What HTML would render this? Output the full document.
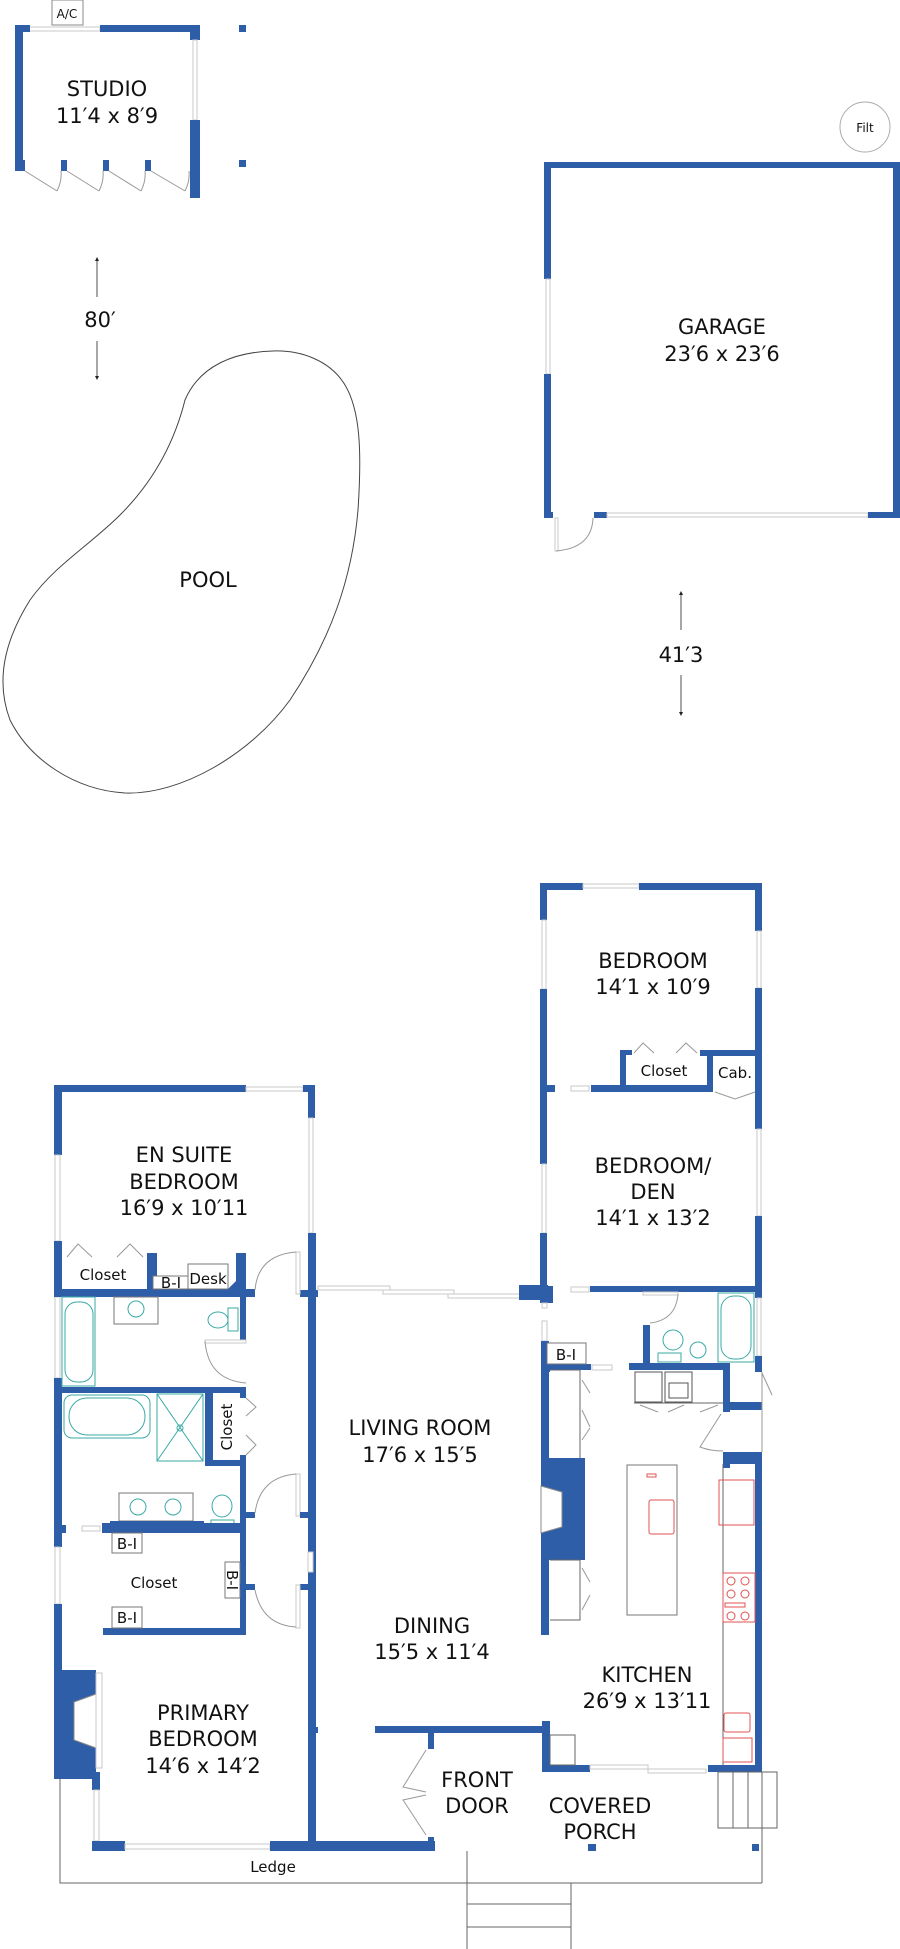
<!DOCTYPE html>
<html><head><meta charset="utf-8"><style>
html,body{margin:0;padding:0;background:#fff}
svg{display:block}
text{font-family:"DejaVu Sans","Liberation Sans",sans-serif;fill:#111;text-anchor:middle}
.w{fill:#2f5ea8}
.win{fill:#fff;stroke:#c8c8c8;stroke-width:1}
.ln{fill:none;stroke:#999;stroke-width:1}
.dk{fill:none;stroke:#666;stroke-width:1}
.t{fill:none;stroke:#3aaaa6;stroke-width:1}
.r{fill:none;stroke:#e05050;stroke-width:1}
.big{font-size:21px}
.sm{font-size:15px}
.xs{font-size:12px}
</style></head><body>
<svg width="900" height="1949" viewBox="0 0 900 1949" xmlns="http://www.w3.org/2000/svg">
<defs><marker id="ar" viewBox="0 0 6 6" refX="3" refY="3" markerWidth="5" markerHeight="5" orient="auto"><path d="M0,0L6,3L0,6z" fill="#222"/></marker></defs>

<!-- STUDIO -->
<rect x="52" y="0" width="31" height="25" fill="#fff" stroke="#888"/>
<text x="67" y="18" class="xs">A/C</text>
<rect class="win" x="23" y="27" width="77" height="4"/>
<rect class="w" x="15" y="25" width="8" height="146"/>
<rect class="w" x="15" y="25" width="15" height="7"/>
<rect class="w" x="100" y="25" width="100" height="7"/>
<rect class="w" x="190" y="25" width="10" height="15"/>
<rect class="win" x="193" y="40" width="4" height="80"/>
<rect class="w" x="190" y="120" width="10" height="78"/>
<rect class="w" x="15" y="160" width="10" height="11"/>
<rect class="w" x="61" y="160" width="6" height="11"/>
<rect class="w" x="103" y="160" width="6" height="11"/>
<rect class="w" x="145" y="160" width="6" height="11"/>
<path class="ln" d="M25,171 L57,191 M67,171 L99,191 M109,171 L141,191 M151,171 L185,191"/>
<path class="ln" d="M57,191 Q62,181 61,171 M99,191 Q104,181 103,171 M141,191 Q146,181 145,171 M185,191 Q190,181 189,171"/>
<rect class="w" x="239" y="25" width="7" height="7"/>
<rect class="w" x="239" y="160" width="7" height="7"/>
<text x="107" y="96" class="big">STUDIO</text>
<text x="107" y="123" class="big">11′4 x 8′9</text>

<!-- dimension 80' -->
<line x1="97" y1="297" x2="97" y2="259" stroke="#222" stroke-width="0.8" marker-end="url(#ar)"/>
<line x1="97" y1="341" x2="97" y2="378" stroke="#222" stroke-width="0.8" marker-end="url(#ar)"/>
<text x="100" y="327" class="big">80′</text>

<!-- Filt -->
<circle cx="865" cy="127" r="25" fill="#fff" stroke="#aaa"/>
<text x="865" y="132" class="xs">Filt</text>

<!-- GARAGE -->
<rect class="w" x="544" y="162" width="356" height="6"/>
<rect class="w" x="544" y="162" width="7" height="117"/>
<rect class="win" x="546" y="279" width="4" height="95"/>
<rect class="w" x="544" y="374" width="7" height="144"/>
<rect class="w" x="893" y="162" width="7" height="356"/>
<rect class="w" x="544" y="512" width="9" height="6"/>
<rect class="w" x="594" y="512" width="13" height="6"/>
<rect class="win" x="607" y="513" width="261" height="4"/>
<rect class="w" x="868" y="512" width="32" height="6"/>
<rect class="win" x="555" y="518" width="3" height="33"/>
<path class="ln" d="M556,551 Q592,548 593,518"/>
<text x="722" y="334" class="big">GARAGE</text>
<text x="722" y="361" class="big">23′6 x 23′6</text>

<!-- dimension 41'3 -->
<line x1="681" y1="630" x2="681" y2="593" stroke="#222" stroke-width="0.8" marker-end="url(#ar)"/>
<line x1="681" y1="675" x2="681" y2="714" stroke="#222" stroke-width="0.8" marker-end="url(#ar)"/>
<text x="681" y="662" class="big">41′3</text>

<!-- POOL -->
<path fill="none" stroke="#444" stroke-width="1" d="M273,351 C300,350 330,360 345,385 C360,410 362,450 358,510 C352,580 330,640 290,700 C250,755 180,795 125,793 C75,790 30,760 10,720 C-5,680 5,640 30,600 C55,565 90,545 120,515 C155,480 175,440 185,400 C200,365 235,352 273,351 Z"/>
<text x="208" y="587" class="big">POOL</text>

<!-- ===== MAIN HOUSE ===== -->
<!-- En suite -->
<rect class="w" x="54" y="1085" width="192" height="7"/>
<rect class="win" x="246" y="1087" width="57" height="4"/>
<rect class="w" x="303" y="1085" width="12" height="7"/>
<rect class="w" x="308" y="1085" width="7" height="33"/>
<rect class="win" x="309" y="1118" width="4" height="115"/>
<rect class="w" x="308" y="1233" width="8" height="618"/>
<rect class="w" x="54" y="1085" width="8" height="70"/>
<rect class="win" x="55" y="1155" width="5" height="86"/>
<rect class="w" x="54" y="1241" width="8" height="56"/>
<rect class="win" x="55" y="1297" width="5" height="81"/>
<rect class="w" x="54" y="1378" width="8" height="169"/>
<rect class="win" x="55" y="1547" width="5" height="57"/>
<rect class="w" x="54" y="1604" width="8" height="66"/>
<rect class="w" x="54" y="1670" width="42" height="109"/>
<path d="M74,1702 L96,1694 L96,1748 L74,1740 Z" fill="#fff" stroke="#888"/>
<rect class="win" x="96" y="1673" width="6" height="95"/>
<rect class="w" x="54" y="1289" width="201" height="8"/>
<rect class="w" x="54" y="1253" width="8" height="8"/>
<rect class="w" x="147" y="1253" width="10" height="44"/>
<rect class="w" x="236" y="1253" width="10" height="44"/>
<rect class="w" x="240" y="1289" width="6" height="51"/>
<path d="M228,1289 L246,1271 L246,1289 Z" class="w"/>
<path class="ln" d="M67,1257 L78,1244 L92,1257 M117,1257 L130,1244 L143,1257"/>
<rect x="153" y="1276" width="35" height="13" fill="#fff" stroke="#777"/>
<rect x="188" y="1264" width="40" height="25" fill="#fff" stroke="#777"/>
<text x="103" y="1280" class="sm">Closet</text>
<text x="171" y="1288" class="sm">B-I</text>
<text x="208" y="1284" class="sm">Desk</text>
<!-- bath 1 -->
<rect class="w" x="54" y="1387" width="192" height="6"/>
<rect class="w" x="240" y="1387" width="6" height="11"/>
<rect class="t" x="62" y="1297" width="33" height="89"/>
<rect class="t" x="65" y="1302" width="28" height="80" rx="12"/>
<rect x="114" y="1297" width="44" height="27" fill="none" stroke="#777"/>
<circle class="t" cx="136" cy="1309" r="8"/>
<ellipse class="t" cx="218" cy="1320" rx="10" ry="8"/>
<rect class="t" x="228" y="1308" width="10" height="23"/>
<rect class="win" x="205" y="1340" width="41" height="3"/>
<path class="ln" d="M205,1341 Q208,1380 246,1383"/>
<!-- bath 2 -->
<rect class="w" x="205" y="1393" width="8" height="72"/>
<rect class="w" x="205" y="1460" width="41" height="6"/>
<rect class="w" x="240" y="1455" width="6" height="180"/>
<rect class="t" x="64" y="1395" width="86" height="43" rx="8"/>
<rect class="t" x="69" y="1398" width="76" height="37" rx="18"/>
<rect class="t" x="157" y="1394" width="46" height="67"/>
<path class="t" d="M157,1394 L203,1461 M203,1394 L157,1461"/>
<circle class="t" cx="180" cy="1428" r="3"/>
<path class="ln" d="M246,1398 L256,1407 L246,1416 M246,1435 L256,1445 L246,1455"/>
<text x="0" y="0" class="sm" transform="translate(232,1427) rotate(-90)">Closet</text>
<rect x="119" y="1493" width="74" height="28" fill="none" stroke="#777"/>
<circle class="t" cx="138" cy="1507" r="8"/>
<circle class="t" cx="173" cy="1507" r="8"/>
<ellipse class="t" cx="222" cy="1506" rx="10" ry="11"/>
<rect class="t" x="211" y="1520" width="23" height="12"/>
<rect class="w" x="110" y="1521" width="94" height="12"/>
<rect class="w" x="102" y="1523" width="144" height="10"/>
<rect class="win" x="82" y="1526" width="18" height="5"/>
<rect class="w" x="62" y="1525" width="4" height="8"/>
<rect class="w" x="240" y="1512" width="15" height="6"/>
<rect class="win" x="296" y="1474" width="4" height="42"/>
<rect class="w" x="300" y="1512" width="8" height="6"/>
<path class="ln" d="M255,1513 Q260,1477 296,1474"/>
<!-- closet -->
<rect class="w" x="103" y="1628" width="143" height="7"/>
<rect x="112" y="1533" width="30" height="20" fill="#fff" stroke="#777"/>
<rect x="112" y="1607" width="30" height="21" fill="#fff" stroke="#777"/>
<rect x="225" y="1562" width="15" height="36" fill="#fff" stroke="#777"/>
<text x="127" y="1549" class="sm">B-I</text>
<text x="127" y="1623" class="sm">B-I</text>
<text x="0" y="0" class="sm" transform="translate(227,1580) rotate(90)">B-I</text>
<text x="154" y="1588" class="sm">Closet</text>
<rect class="w" x="240" y="1584" width="15" height="6"/>
<rect class="w" x="300" y="1584" width="8" height="6"/>
<rect class="win" x="296" y="1585" width="4" height="43"/>
<path class="ln" d="M255,1590 Q262,1625 296,1627"/>
<rect class="win" x="308" y="1552" width="5" height="20"/>
<!-- primary -->
<rect class="w" x="92" y="1772" width="8" height="18"/>
<rect class="win" x="94" y="1790" width="5" height="51"/>
<rect class="w" x="92" y="1841" width="33" height="10"/>
<rect class="win" x="125" y="1844" width="145" height="5"/>
<rect class="w" x="270" y="1841" width="165" height="10"/>
<rect class="w" x="315" y="1727" width="3" height="6"/>
<text x="203" y="1720" class="big">PRIMARY</text>
<text x="203" y="1746" class="big">BEDROOM</text>
<text x="203" y="1773" class="big">14′6 x 14′2</text>
<!-- ledge -->
<path class="dk" d="M60,1779 L60,1883 L762,1883 M762,1772 L762,1883"/>
<text x="273" y="1872" class="sm">Ledge</text>
<path class="dk" d="M467,1851 L467,1949 M571,1883 L571,1949 M467,1904 L571,1904 M467,1927 L571,1927"/>
<text x="184" y="1162" class="big">EN SUITE</text>
<text x="184" y="1189" class="big">BEDROOM</text>
<text x="184" y="1215" class="big">16′9 x 10′11</text>

<!-- living -->
<rect class="w" x="300" y="1290" width="18" height="7"/>
<rect class="win" x="296" y="1252" width="4" height="42"/>
<path class="ln" d="M255,1290 Q258,1255 296,1252"/>
<rect class="w" x="240" y="1290" width="15" height="7"/>
<rect class="win" x="318" y="1286" width="72" height="4"/>
<rect class="win" x="383" y="1290" width="71" height="4"/>
<rect class="win" x="448" y="1294" width="72" height="4"/>
<rect class="w" x="519" y="1285" width="29" height="15"/>
<rect class="w" x="540" y="1286" width="13" height="17"/>
<rect class="win" x="542" y="1303" width="5" height="5"/>
<rect class="win" x="542" y="1321" width="5" height="20"/>
<text x="420" y="1435" class="big">LIVING ROOM</text>
<text x="420" y="1462" class="big">17′6 x 15′5</text>
<text x="432" y="1633" class="big">DINING</text>
<text x="432" y="1659" class="big">15′5 x 11′4</text>

<!-- right bedrooms -->
<rect class="w" x="540" y="883" width="43" height="7"/>
<rect class="win" x="583" y="884" width="56" height="4"/>
<rect class="w" x="639" y="883" width="123" height="7"/>
<rect class="w" x="540" y="883" width="7" height="37"/>
<rect class="win" x="542" y="920" width="4" height="69"/>
<rect class="w" x="540" y="989" width="7" height="175"/>
<rect class="win" x="542" y="1164" width="4" height="69"/>
<rect class="w" x="540" y="1233" width="7" height="60"/>
<rect class="w" x="755" y="883" width="7" height="48"/>
<rect class="win" x="757" y="931" width="4" height="57"/>
<rect class="w" x="755" y="988" width="7" height="141"/>
<rect class="win" x="757" y="1129" width="4" height="87"/>
<rect class="w" x="755" y="1216" width="7" height="76"/>
<rect class="w" x="540" y="1085" width="15" height="7"/>
<rect class="win" x="571" y="1086" width="18" height="5"/>
<rect class="w" x="591" y="1085" width="122" height="7"/>
<rect class="w" x="620" y="1050" width="6" height="42"/>
<rect class="w" x="620" y="1050" width="12" height="5"/>
<rect class="w" x="700" y="1050" width="62" height="6"/>
<rect class="w" x="707" y="1050" width="6" height="42"/>
<path class="ln" d="M634,1053 L643,1043 L654,1053 M676,1053 L686,1043 L697,1053 M715,1092 L735,1099 L755,1092"/>
<text x="664" y="1076" class="sm">Closet</text>
<text x="735" y="1078" class="sm">Cab.</text>
<text x="653" y="968" class="big">BEDROOM</text>
<text x="653" y="994" class="big">14′1 x 10′9</text>
<text x="653" y="1173" class="big">BEDROOM/</text>
<text x="653" y="1199" class="big">DEN</text>
<text x="653" y="1225" class="big">14′1 x 13′2</text>

<!-- kitchen top / bath -->
<rect class="w" x="590" y="1286" width="172" height="6"/>
<rect class="win" x="571" y="1287" width="18" height="5"/>
<rect class="w" x="643" y="1286" width="7" height="5"/>
<rect class="win" x="643" y="1292" width="35" height="3"/>
<path class="ln" d="M678,1294 Q676,1320 650,1323"/>
<rect class="w" x="643" y="1325" width="7" height="45"/>
<rect class="w" x="755" y="1280" width="7" height="18"/>
<rect class="win" x="757" y="1298" width="4" height="58"/>
<rect class="w" x="755" y="1356" width="7" height="16"/>
<rect class="t" x="718" y="1293" width="36" height="69"/>
<rect class="t" x="721" y="1296" width="30" height="63" rx="13"/>
<ellipse class="t" cx="673" cy="1340" rx="10" ry="10"/>
<rect class="t" x="658" y="1353" width="23" height="9"/>
<circle class="t" cx="698" cy="1350" r="8"/>
<rect class="w" x="629" y="1363" width="101" height="7"/>
<rect class="w" x="723" y="1363" width="7" height="49"/>
<rect class="w" x="723" y="1402" width="39" height="8"/>
<rect class="w" x="723" y="1452" width="39" height="12"/>
<rect class="w" x="723" y="1452" width="7" height="16"/>
<rect class="w" x="755" y="1452" width="7" height="320"/>
<path class="ln" d="M762,1372 L762,1452 M762,1373 L772,1395"/>
<rect x="635" y="1372" width="27" height="30" fill="none" stroke="#555"/>
<rect x="665" y="1372" width="27" height="30" fill="none" stroke="#555"/>
<rect x="669" y="1383" width="19" height="15" fill="none" stroke="#555"/>
<path class="dk" d="M634,1403 L723,1403"/>
<path class="ln" d="M640,1405 L658,1412 M668,1412 L684,1405 M700,1412 L718,1405 M721,1414 L700,1447 Q710,1451 723,1451"/>
<rect class="w" x="542" y="1370" width="8" height="2"/>
<!-- kitchen left -->
<rect class="w" x="541" y="1341" width="8" height="294"/>
<rect class="w" x="549" y="1364" width="42" height="6"/>
<rect class="win" x="592" y="1365" width="20" height="5"/>
<rect x="547" y="1343" width="39" height="21" fill="#fff" stroke="#777"/>
<text x="566" y="1360" class="sm">B-I</text>
<rect class="w" x="541" y="1458" width="44" height="102"/>
<path d="M541,1486 L562,1492 L562,1527 L541,1533 Z" fill="#fff" stroke="#888"/>
<path class="dk" d="M550,1370 L580,1370 L580,1458 M550,1560 L580,1560 L580,1620 L550,1620"/>
<path class="ln" d="M582,1380 L590,1393 M582,1410 L590,1427 M582,1440 L590,1428 M582,1568 L590,1582 M582,1610 L590,1595"/>
<rect x="627" y="1465" width="50" height="150" fill="none" stroke="#777"/>
<rect class="r" x="649" y="1500" width="25" height="34" rx="2"/>
<rect class="r" x="647" y="1474" width="9" height="3"/>
<!-- kitchen right counter -->
<path class="dk" d="M723,1464 L723,1765"/>
<rect class="r" x="719" y="1480" width="35" height="45"/>
<rect class="r" x="723" y="1573" width="32" height="49"/>
<circle class="r" cx="731" cy="1581" r="4"/><circle class="r" cx="745" cy="1581" r="4"/>
<circle class="r" cx="731" cy="1594" r="4"/><circle class="r" cx="745" cy="1594" r="4"/>
<circle class="r" cx="731" cy="1616" r="4"/><circle class="r" cx="745" cy="1616" r="4"/>
<rect class="r" x="725" y="1603" width="20" height="4"/>
<rect class="r" x="724" y="1713" width="26" height="19" rx="2"/>
<rect class="r" x="723" y="1738" width="29" height="24"/>
<text x="647" y="1682" class="big">KITCHEN</text>
<text x="647" y="1708" class="big">26′9 x 13′11</text>
<!-- kitchen bottom / porch -->
<rect class="w" x="375" y="1726" width="175" height="7"/>
<rect class="w" x="542" y="1721" width="8" height="51"/>
<rect class="w" x="542" y="1765" width="48" height="7"/>
<rect x="550" y="1735" width="25" height="30" fill="none" stroke="#666"/>
<rect class="win" x="590" y="1765" width="58" height="4"/>
<rect class="win" x="648" y="1769" width="58" height="4"/>
<rect class="w" x="708" y="1765" width="54" height="7"/>
<path class="dk" d="M718,1772 L718,1828 L777,1828 L777,1772 L718,1772 M733,1772 L733,1828 M748,1772 L748,1828"/>
<rect class="w" x="428" y="1733" width="6" height="16"/>
<rect class="w" x="428" y="1837" width="6" height="14"/>
<rect class="w" x="300" y="1841" width="134" height="10"/>
<path class="ln" d="M426,1750 L403,1787 L426,1792 M426,1835 L403,1800 L426,1795"/>
<rect class="w" x="588" y="1844" width="8" height="7"/>
<rect class="w" x="752" y="1844" width="7" height="7"/>
<text x="477" y="1787" class="big">FRONT</text>
<text x="477" y="1813" class="big">DOOR</text>
<text x="600" y="1813" class="big">COVERED</text>
<text x="600" y="1839" class="big">PORCH</text>
</svg>
</body></html>
